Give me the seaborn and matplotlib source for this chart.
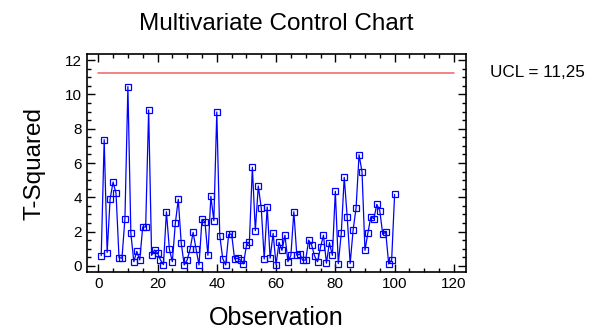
import numpy as np
import pandas as pd
import matplotlib
matplotlib.use("Agg")
import matplotlib.pyplot as plt
import seaborn as sns
from matplotlib.ticker import MultipleLocator

observation = list(range(1, 101))
t_squared = [
    0.60, 7.36, 0.78, 3.90, 4.89, 4.23, 0.49, 0.45, 2.76, 10.45,
    1.90, 0.25, 0.85, 0.35, 2.27, 2.27, 9.09, 0.62, 0.93, 0.76,
    0.35, 0.08, 3.16, 0.97, 0.25, 2.48, 3.88, 1.32, 0.06, 0.35,
    0.99, 1.96, 0.99, 0.06, 2.72, 2.58, 0.62, 4.06, 2.64, 8.97,
    1.77, 0.43, 0.06, 1.84, 1.86, 0.41, 0.45, 0.35, 0.12, 1.20,
    1.40, 5.75, 2.06, 4.66, 3.38, 0.41, 3.44, 0.45, 1.90, 0.08,
    1.38, 0.91, 1.79, 0.25, 0.62, 3.16, 0.62, 0.70, 0.33, 0.35,
    1.51, 1.22, 0.58, 0.25, 1.09, 1.79, 0.16, 1.36, 0.62, 4.35,
    0.14, 1.90, 5.16, 2.87, 0.14, 2.10, 3.38, 6.48, 5.49, 0.91,
    1.94, 2.87, 2.76, 3.59, 3.22, 1.84, 1.98, 0.12, 0.33, 4.17,
]
ucl_value = 11.25
ucl_x = [0, 120]
ucl_label = "UCL = 11,25"
x_ticks = [0, 20, 40, 60, 80, 100, 120]
y_ticks = [0, 2, 4, 6, 8, 10, 12]

sns.set_theme(style="ticks")
plt.rcParams['font.family'] = ['Liberation Sans', 'DejaVu Sans']
plt.rcParams['text.color'] = 'black'
plt.rcParams['axes.labelcolor'] = 'black'

fig = plt.figure(figsize=(6.05, 3.33), dpi=100)
ax = fig.add_axes([0.1438, 0.1832, 0.626, 0.6546])

df = pd.DataFrame({"Observation": observation, "T2": t_squared})
ucl_df = pd.DataFrame({"x": ucl_x, "y": [ucl_value, ucl_value]})

sns.lineplot(data=ucl_df, x="x", y="y", ax=ax, color="#f06060", linewidth=1.1)
sns.lineplot(data=df, x="Observation", y="T2", ax=ax, color="#0000ff",
             linewidth=0.9, marker="s", markersize=4.3,
             markerfacecolor="none", markeredgecolor="#0000ff",
             markeredgewidth=0.9)

ax.set_xlim(-3.8, 124)
ax.set_ylim(-0.35, 12.35)
ax.set_xticks(x_ticks)
ax.set_yticks(y_ticks)
ax.xaxis.set_minor_locator(MultipleLocator(5))
ax.yaxis.set_minor_locator(MultipleLocator(0.5))
ax.tick_params(which="both", direction="in", top=True, right=True,
               colors="black", labelsize=11)
ax.tick_params(which="major", length=6, width=1)
ax.tick_params(which="minor", length=3, width=1)
for s in ax.spines.values():
    s.set_linewidth(1.2)
    s.set_color("black")

ax.set_title("Multivariate Control Chart", fontsize=17.5, pad=17, color="black")
ax.set_xlabel("Observation", fontsize=18, labelpad=11)
ax.set_ylabel("T-Squared", fontsize=17.5, labelpad=14)
ax.text(1.063, ucl_value, ucl_label, transform=ax.get_yaxis_transform(),
        fontsize=12.3, va="center", ha="left", color="black")

fig.savefig("out.png", dpi=100)
